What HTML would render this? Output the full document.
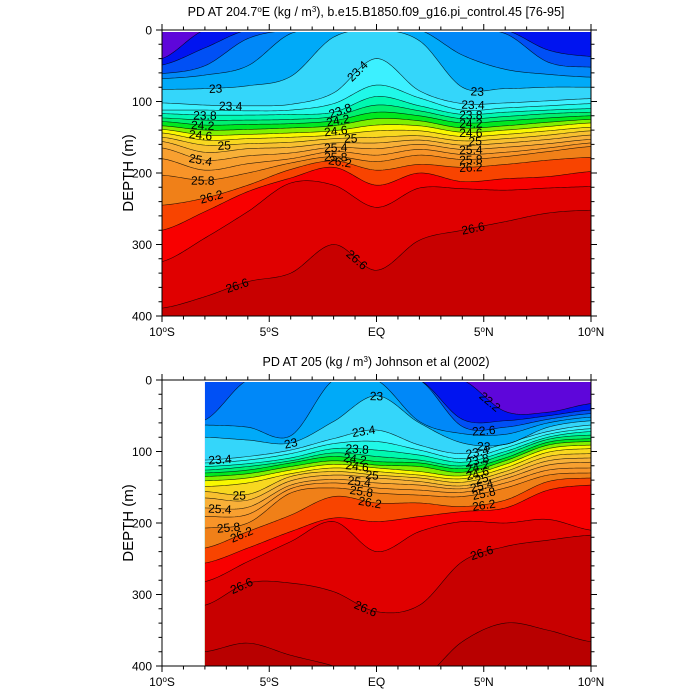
<!DOCTYPE html>
<html><head><meta charset="utf-8"><style>
html,body{margin:0;padding:0;background:#fff}
svg{display:block;font-family:"Liberation Sans",sans-serif}
</style></head><body>
<svg id="chart" width="700" height="700" viewBox="0 0 700 700" xmlns="http://www.w3.org/2000/svg">
<text x="376" y="16" font-size="12.5" text-anchor="middle">PD AT 204.7<tspan baseline-shift="super" font-size="8">o</tspan>E (kg / m<tspan baseline-shift="super" font-size="8">3</tspan>), b.e15.B1850.f09_g16.pi_control.45 [76-95]</text>
<text x="376" y="366" font-size="12.5" text-anchor="middle">PD AT 205 (kg / m<tspan baseline-shift="super" font-size="8">3</tspan>) Johnson et al (2002)</text>
<text transform="translate(133,173) rotate(-90)" font-size="15" text-anchor="middle">DEPTH (m)</text>
<text transform="translate(133,523) rotate(-90)" font-size="15" text-anchor="middle">DEPTH (m)</text>
</svg>
<script>
const levels=[22.2,22.4,22.6,22.8,23.0,23.4,23.6,23.8,24.0,24.2,24.4,24.6,24.8,25.0,25.2,25.4,25.6,25.8,26.2,26.3,26.45,26.6,26.8];
const topLats=[-10,-8,-6,-4,-2,0,2,4,6,8,10];
const botLats=[-8,-6,-4,-2,0,2,4,6,8,10];
const topDepths=[
[40,0,0,0,0,0,0,0,0,0,0],
[49,25,0,0,0,0,0,0,0,28,37],
[61,50,12,0,0,0,0,0,5,45,52],
[68,63,50,5,0,0,0,35,55,62,66],
[83,82,78,65,10,0,15,80,82,80,80],
[102,105,106,104,88,40,85,103,102,99,96],
[112,112,113,112,103,77,95,112,109,106,103],
[117,119,119,118,115,93,106,118,115,112,110],
[123,126,126,125,121,105,113,124,121,117,115],
[128,133,132,131,127,115,120,130,127,123,120],
[134,140,139,137,134,124,127,137,134,129,125],
[139,147,146,144,141,133,134,143,140,135,130],
[144,154,152,150,147,141,141,149,146,141,136],
[150,161,159,157,152,150,148,155,152,147,141],
[156,171,166,164,158,158,154,161,158,153,147],
[165,182,176,172,164,166,160,167,164,159,153],
[180,196,187,180,170,175,167,174,171,165,158],
[203,210,200,186,177,184,175,181,177,170,163],
[245,235,217,195,183,196,188,192,188,182,178],
[280,254,226,207,192,217,200,212,208,205,198],
[324,291,254,214,217,248,221,222,224,221,219],
[389,373,352,340,300,336,294,280,268,256,252],
[450,450,450,450,450,450,450,450,450,450,450]];
const botDepths=[
[0,0,0,0,0,0,0,44,45,33],
[0,0,0,0,0,0,55,57,50,42],
[56,0,0,0,0,0,65,66,55,47],
[63,66,78,0,0,58,75,76,60,52],
[80,84,88,58,22,60,88,90,66,57],
[112,107,98,82,70,91,103,89,72,63],
[116,112,103,89,86,98,110,95,76,68],
[121,117,109,96,98,105,115,100,80,72],
[126,121,113,102,107,112,120,104,83,77],
[130,126,116,107,114,116,124,109,87,82],
[135,131,121,113,119,121,129,113,91,86],
[141,137,126,118,123,128,134,118,96,91],
[149,144,131,123,128,133,138,123,101,96],
[156,160,135,128,133,137,143,128,107,103],
[165,168,141,133,137,142,148,133,113,109],
[179,178,147,139,144,147,152,138,119,115],
[191,188,152,144,151,154,157,144,126,123],
[207,200,158,151,158,161,163,151,133,130],
[235,212,189,163,172,172,177,168,142,137],
[256,235,212,193,198,191,184,179,154,147],
[282,254,226,198,240,212,198,200,195,210],
[315,284,284,296,324,315,254,233,224,217],
[380,368,385,400,420,420,366,340,350,366]];
const topLabels=[[23.0,-7.5],[23.4,-6.8],[23.8,-8.0],[24.2,-8.1],[24.6,-8.2],[25.0,-7.1],[25.4,-8.2],[25.8,-8.1],[26.2,-7.7],[26.6,-6.5],
[23.4,-0.9],[23.8,-1.7],[24.2,-1.8],[24.6,-1.9],[25.0,-1.2],[25.4,-1.9],[25.8,-1.9],[26.2,-1.7],[26.6,-0.9],
[23.0,4.7],[23.4,4.5],[23.8,4.4],[24.2,4.4],[24.6,4.4],[25.0,4.6],[25.4,4.4],[25.8,4.4],[26.2,4.4],[26.6,4.5]];
const botLabels=[[22.2,5.3],[22.6,5.0],[23.0,-4.0],[23.0,0.0],[23.0,5.0],[23.4,-7.3],[23.4,-0.6],[23.4,4.7],[23.8,-0.9],[24.2,-1.0],[24.6,-0.9],[25.0,-0.2],[25.4,-0.8],[25.8,-0.7],[26.2,-0.3],
[23.8,4.7],[24.2,4.7],[24.6,4.7],[25.0,4.9],[25.4,4.9],[25.8,5.0],[26.2,5.0],[25.0,-6.4],[25.4,-7.3],[25.8,-6.9],[26.2,-6.3],[26.6,-6.3],[26.6,-0.5],[26.6,4.9]];
const xTickLabels=["10°S","5°S","EQ","5°N","10°N"];
const xTickLats=[-10,-5,0,5,10];
const yTickLabels=["0","100","200","300","400"];
const yTickVals=[0,100,200,300,400];

const aboveColor="#5e06da";
const bandColors=["#0014f0","#0050f5","#0088f8","#00aaf8","#34d6fa","#3cf0ff","#20f8e8","#00f8b0","#00f070","#00e820","#80f000","#f8f800","#f8d820","#f8c030","#f8b038","#f8a030","#f89428","#f08018","#f84400","#f80000","#e00000","#c80000","#b80000"];

const NS="http://www.w3.org/2000/svg";
const svg=document.getElementById('chart');
function mk(tag,attrs,parent){const e=document.createElementNS(NS,tag);for(const k in attrs)e.setAttribute(k,attrs[k]);(parent||svg).appendChild(e);return e;}

function cr(lats,vals,lat){
  let i=0;while(i<lats.length-2&&lat>lats[i+1])i++;
  const t=(lat-lats[i])/(lats[i+1]-lats[i]);
  const p0=vals[Math.max(0,i-1)],p1=vals[i],p2=vals[i+1],p3=vals[Math.min(vals.length-1,i+2)];
  const t2=t*t,t3=t2*t;
  return 0.5*((2*p1)+(-p0+p2)*t+(2*p0-5*p1+4*p2-p3)*t2+(-p0+3*p1-3*p2+p3)*t3);
}

function drawPanel(P,lats,depths,labels,key){
  const xs=lat=>P.x0+(lat+10)*(P.x1-P.x0)/20;
  const ys=d=>P.y0+d*(P.y1-P.y0)/400;
  const clipId='clip-'+key;
  const cp=mk('clipPath',{id:clipId});
  mk('rect',{x:xs(lats[0]),y:P.y0+2,width:xs(lats[lats.length-1])-xs(lats[0]),height:P.y1-P.y0-2},cp);
  const g=mk('g',{'clip-path':'url(#'+clipId+')'});
  
  
  const samp=[];
  for(let l=lats[0];l<=lats[lats.length-1]+1e-6;l+=0.1)samp.push(+l.toFixed(2));
  const S=depths.map(row=>samp.map(l=>Math.max(0,Math.min(430,cr(lats,row,l)))));
  for(let i=1;i<S.length;i++)for(let j=0;j<samp.length;j++)S[i][j]=Math.max(S[i][j],S[i-1][j]);
  const bg=mk('rect',{x:xs(lats[0]),y:P.y0,width:xs(lats[lats.length-1])-xs(lats[0]),height:P.y1-P.y0,fill:aboveColor},g);
  
  
  S.forEach((row,i)=>{
    let d='M'+xs(samp[0])+','+ys(row[0]);
    for(let j=1;j<samp.length;j++)d+='L'+xs(samp[j]).toFixed(2)+','+ys(row[j]).toFixed(2);
    const fillD=d+'L'+xs(samp[samp.length-1])+','+(P.y1+20)+'L'+xs(samp[0])+','+(P.y1+20)+'Z';
    const b=mk('path',{d:fillD,fill:bandColors[i],stroke:'none'},g);
    
    
  });
  S.forEach((row,i)=>{
    let d='M'+xs(samp[0])+','+ys(row[0]);
    for(let j=1;j<samp.length;j++)d+='L'+xs(samp[j]).toFixed(2)+','+ys(row[j]).toFixed(2);
    const c=mk('path',{d:d,fill:'none',stroke:'#000','stroke-width':0.6,'stroke-opacity':0.8},g);
    
    
  });
  const depthAt=(i,lat)=>{let j=Math.round((lat-samp[0])/0.1);j=Math.max(0,Math.min(samp.length-1,j));return S[i][j];};
  labels.forEach(([lev,lat])=>{
    const i=levels.indexOf(lev);if(i<0)return;
    const d=depthAt(i,lat);
    const a=depthAt(i,lat-0.4),b=depthAt(i,lat+0.4);
    const ang=Math.atan2(ys(b)-ys(a),xs(lat+0.4)-xs(lat-0.4))*180/Math.PI;
    const x=xs(lat),y=ys(d);
    const t=mk('text',{x:x,y:y+4.5,'font-size':12,'text-anchor':'middle',transform:'rotate('+ang.toFixed(1)+' '+x+' '+y+')'},g);
    t.textContent=String(lev);
    
    
  });
  const fr=mk('rect',{x:P.x0,y:P.y0,width:P.x1-P.x0,height:P.y1-P.y0,fill:'none',stroke:'#000','stroke-width':1});
  
  
  let td='';
  for(let l=-10;l<=10;l++){const x=xs(l),len=(l%5===0)?6:3.5;td+='M'+x+','+P.y1+'v'+len+'M'+x+','+P.y0+'v'+(-len);}
  for(let v=0;v<=400;v+=20){const y=ys(v),len=(v%100===0)?6:3.5;td+='M'+P.x0+','+y+'h'+(-len)+'M'+P.x1+','+y+'h'+len;}
  const tk=mk('path',{d:td,stroke:'#000','stroke-width':1,fill:'none'});
  
  
  xTickLats.forEach((l,k)=>{
    const s=xTickLabels[k];
    const t=mk('text',{x:xs(l),y:P.y1+20,'font-size':12,'text-anchor':'middle'});
    if(s.indexOf('°')>=0){
      const parts=s.split('°');
      t.appendChild(document.createTextNode(parts[0]));
      const sp=mk('tspan',{'baseline-shift':'super','font-size':8},t);sp.textContent='o';
      t.appendChild(document.createTextNode(parts[1]));
    } else t.textContent=s;
    
    
  });
  yTickVals.forEach((v,k)=>{
    const t=mk('text',{x:P.x0-10,y:ys(v)+4.5,'font-size':12,'text-anchor':'end'});
    t.textContent=yTickLabels[k];
    
    
  });
}
drawPanel({x0:162,x1:591,y0:30,y1:316},topLats,topDepths,topLabels,'top-panel');
drawPanel({x0:162,x1:591,y0:380,y1:666},botLats,botDepths,botLabels,'bottom-panel');
</script>
</body></html>
